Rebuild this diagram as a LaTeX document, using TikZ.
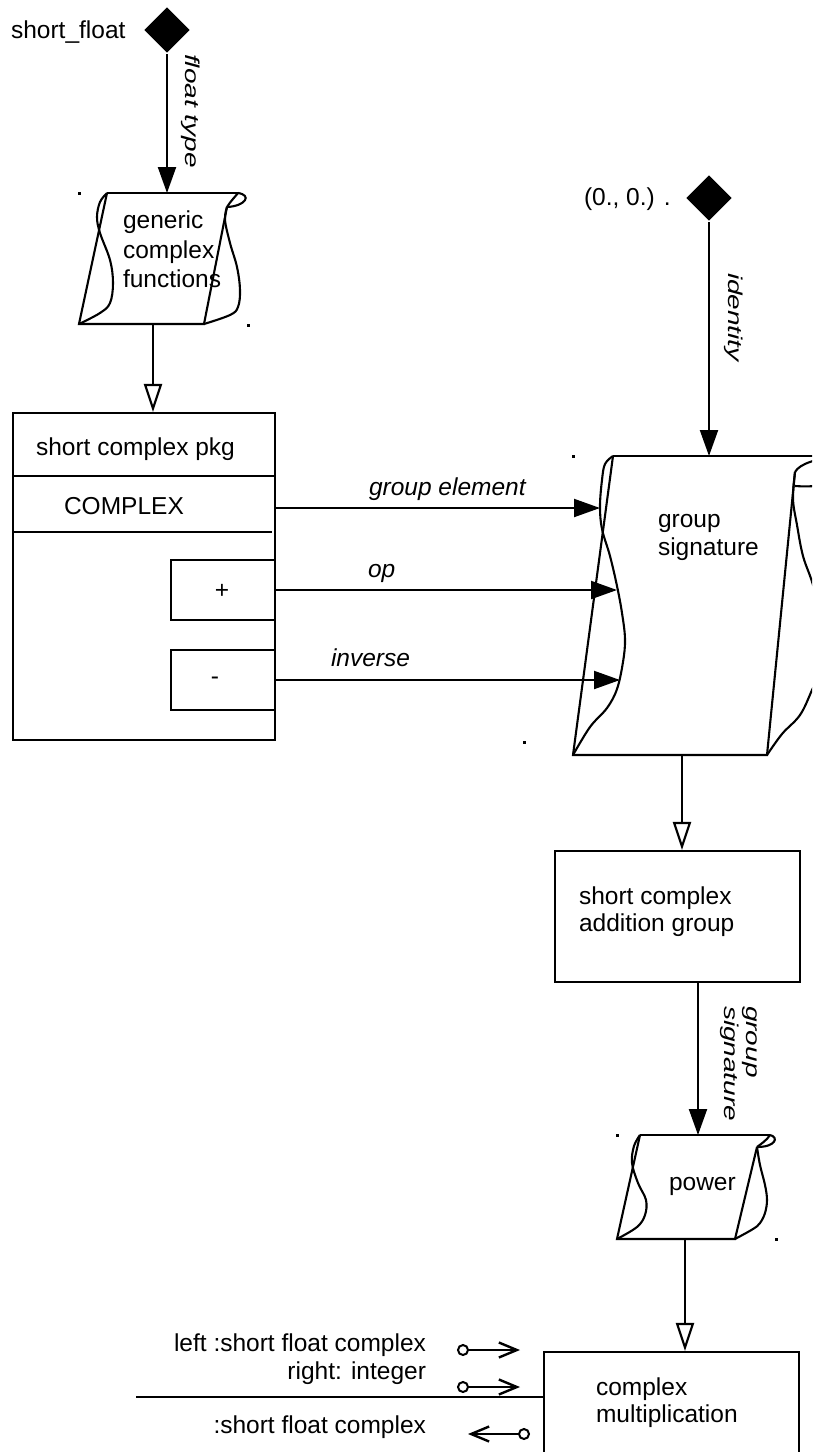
\documentclass[tikz,border=0pt]{standalone}
\usepackage{fontspec}
\setmainfont{Liberation Sans}
\usetikzlibrary{arrows.meta,shapes.geometric}
\tikzset{
  txt/.style={font=\fontsize{24.5}{29}\selectfont, inner sep=0pt},
  lbl/.style={font=\fontsize{24.5}{29}\selectfont\itshape, inner sep=0pt},
  vlbl/.style={font=\fontsize{20}{22}\selectfont\itshape, inner sep=0pt, rotate=-90, anchor=north west},
  fillhead/.style={-{Triangle[length=26pt,width=18pt]}},
  openhead/.style={-{Triangle[open,length=28pt,width=18pt]}},
  portarrow/.style={line width=2pt, arrows={Circle[open,length=12pt,width=12pt]-Straight Barb[length=18pt,width=15pt,line width=2.4pt]}},
  handle/.style={rectangle, fill=black, inner sep=0pt, minimum size=3pt},
  frame/.style={draw, inner sep=0pt},
  ghost/.style={inner sep=0pt, outer sep=0pt},
  wave/.style={smooth, tension=0.6},
  flag/.style={fill=black, diamond, minimum width=46pt, minimum height=46pt, inner sep=0pt},
}
\begin{document}
\begin{tikzpicture}[x=1pt,y=-1pt,line width=2.1pt]
\useasboundingbox (0,0) rectangle (812,1452);
\clip (0,0) rectangle (812,1452);

% ---------- generic complex functions, instantiated with short_float ----------
\node[txt, anchor=base west] (sf) at (10,38) {short\_float};
\node[flag] (d1) at (167,30) {};
\node[ghost, minimum width=159pt, minimum height=131pt] (gcf) at (158.5,258.5) {};
\draw (107,193) -- (238,193);
\draw (238,193) .. controls (234,198) and (230,202) .. (227,207);
\draw (238,193) .. controls (252,195) and (246,206) .. (227,207);
\draw (227,207) -- (204,324) -- (79,324) -- (107,193);
\draw plot[wave] coordinates {(107,193) (100,202) (97,217) (100,233) (110,260) (113,283) (110,303) (100,313) (79,324)};
\draw plot[wave] coordinates {(227,207) (225,220) (230,243) (237,267) (240,290) (238,307) (230,315) (204,324)};
\node[txt, anchor=base west] (gcf1) at (122,228) {generic};
\node[txt, anchor=base west] (gcf2) at (122,258) {complex};
\node[txt, anchor=base west] (gcf3) at (122,287) {functions};
\node[handle] (h1) at (79,193) {};
\node[handle] (h2) at (248,325) {};
\draw[fillhead] (d1.south) -- (d1.south |- gcf.north);
\node[vlbl] (ft) at (201,53) {\scalebox{1.4}[1]{float type}};

% ---------- short complex pkg ----------
\node[frame, minimum width=262pt, minimum height=327pt] (pkg) at (144,576.5) {};
\draw (13,476) -- (275,476);
\draw (13,532) -- (272,532);
\node[txt, anchor=base west] (pkgname) at (35,455) {short complex pkg};
\node[txt, anchor=base west] (cplx) at (63,514) {COMPLEX};
\node[frame, minimum width=104pt, minimum height=60pt] (plus) at (223,590) {};
\node[txt] (pluslbl) at (222,591) {+};
\node[frame, minimum width=104pt, minimum height=60pt] (minus) at (223,680) {};
\node[txt] (minuslbl) at (215,681) {-};
\node[handle] (h4) at (524,742) {};
\coordinate (gout) at (153,324);
\draw[openhead] (gout) -- (gout |- pkg.north);

% ---------- group signature, instantiated with identity (0., 0.) ----------
\node[txt, anchor=base west] (zero) at (583,205) {(0., 0.) .};
\node[flag] (d2) at (709,198) {};
\node[ghost, minimum width=239pt, minimum height=299pt] (sig) at (692.5,605.5) {};
\draw (613,456) -- (840,456);
\draw (836,456) .. controls (818,459) and (800,463) .. (795,472);
\draw (836,456) .. controls (860,462) and (850,490) .. (795,486);
\draw (795,472) -- (767,755) -- (573,755) -- (613,456);
\draw plot[wave] coordinates {(613,456) (605,464) (602,480) (600,506) (602,529) (610,556) (617,586) (622,613) (625,639) (623,662) (617,689) (607,708) (590,727) (573,755)};
\draw plot[wave] coordinates {(795,472) (793,499) (797,525) (803,556) (813,585) (824,630) (821,668) (812,690) (800,715) (782,734) (767,755)};
\node[txt, anchor=base west] (sig1) at (657,527) {group};
\node[txt, anchor=base west] (sig2) at (657,555) {signature};
\node[handle] (h3) at (573,456) {};
\draw[fillhead] (d2.south) -- (d2.south |- sig.north);
\node[vlbl] (idl) at (744,272) {\scalebox{1.4}[1]{identity}};

% actuals supplied by the package
\coordinate (sigA) at (600,508);
\coordinate (sigB) at (617,590);
\coordinate (sigC) at (620,680);
\draw[fillhead] (pkg.east |- sigA) -- (sigA);
\draw[fillhead] (plus.east) -- (sigB);
\draw[fillhead] (minus.east) -- (sigC);
\node[lbl, anchor=base west] (l1) at (368,495) {group element};
\node[lbl, anchor=base west] (l2) at (367,577) {op};
\node[lbl, anchor=base west] (l3) at (330,666) {inverse};

% ---------- short complex addition group ----------
\node[frame, minimum width=245pt, minimum height=131pt] (add) at (677.5,916.5) {};
\node[txt, anchor=base west] (add1) at (578,904) {short complex};
\node[txt, anchor=base west] (add2) at (578,931) {addition group};
\coordinate (sigout) at (682,755);
\draw[openhead] (sigout) -- (sigout |- add.north);

% ---------- power ----------
\node[ghost, minimum width=159pt, minimum height=104pt] (pw) at (696.5,1187) {};
\draw (640,1135) -- (770,1135);
\draw (770,1135) .. controls (767,1140) and (761,1144) .. (757,1147);
\draw (770,1135) .. controls (779,1137) and (776,1147) .. (757,1147);
\draw (757,1147) -- (735,1239) -- (617,1239) -- (640,1135);
\draw plot[wave] coordinates {(640,1135) (634,1146) (632,1163) (638,1183) (646,1200) (645,1215) (637,1227) (617,1239)};
\draw plot[wave] coordinates {(757,1147) (760,1165) (765,1185) (767,1200) (765,1213) (760,1223) (753,1229) (735,1239)};
\node[txt, anchor=base west] (pwl) at (668,1190) {power};
\node[handle] (h5) at (617,1135) {};
\node[handle] (h6) at (776,1239) {};
\coordinate (addout) at (698,982);
\draw[fillhead] (addout) -- (addout |- pw.north);
\node[vlbl, align=left] (gsl) at (763,1005) {\scalebox{1.4}[1]{\begin{tabular}{@{}l@{}}group\\signature\end{tabular}}};

% ---------- complex multiplication ----------
\node[frame, minimum width=255pt, minimum height=128pt] (cm) at (671.5,1416) {};
\node[txt, anchor=base west] (cm1) at (595,1395) {complex};
\node[txt, anchor=base west] (cm2) at (595,1422) {multiplication};
\coordinate (pwout) at (685,1239);
\draw[openhead] (pwout) -- (pwout |- cm.north);

% parameters and result
\node[txt, anchor=base east] (pl) at (427,1351) {left :short float complex};
\node[txt, anchor=base east] (pr) at (427,1379) {right: integer};
\node[txt, anchor=base east] (res) at (427,1433) {:short float complex};
\coordinate (sep) at (136,1397);
\draw (sep) -- (sep -| cm.west);
\coordinate (p1a) at (457,1350);
\coordinate (p1b) at (520,1350);
\coordinate (p2a) at (457,1387);
\coordinate (p2b) at (520,1387);
\coordinate (p3a) at (530,1434);
\coordinate (p3b) at (468,1434);
\draw[portarrow] (p1a) -- (p1b);
\draw[portarrow] (p2a) -- (p2b);
\draw[portarrow] (p3a) -- (p3b);
\end{tikzpicture}
\end{document}
